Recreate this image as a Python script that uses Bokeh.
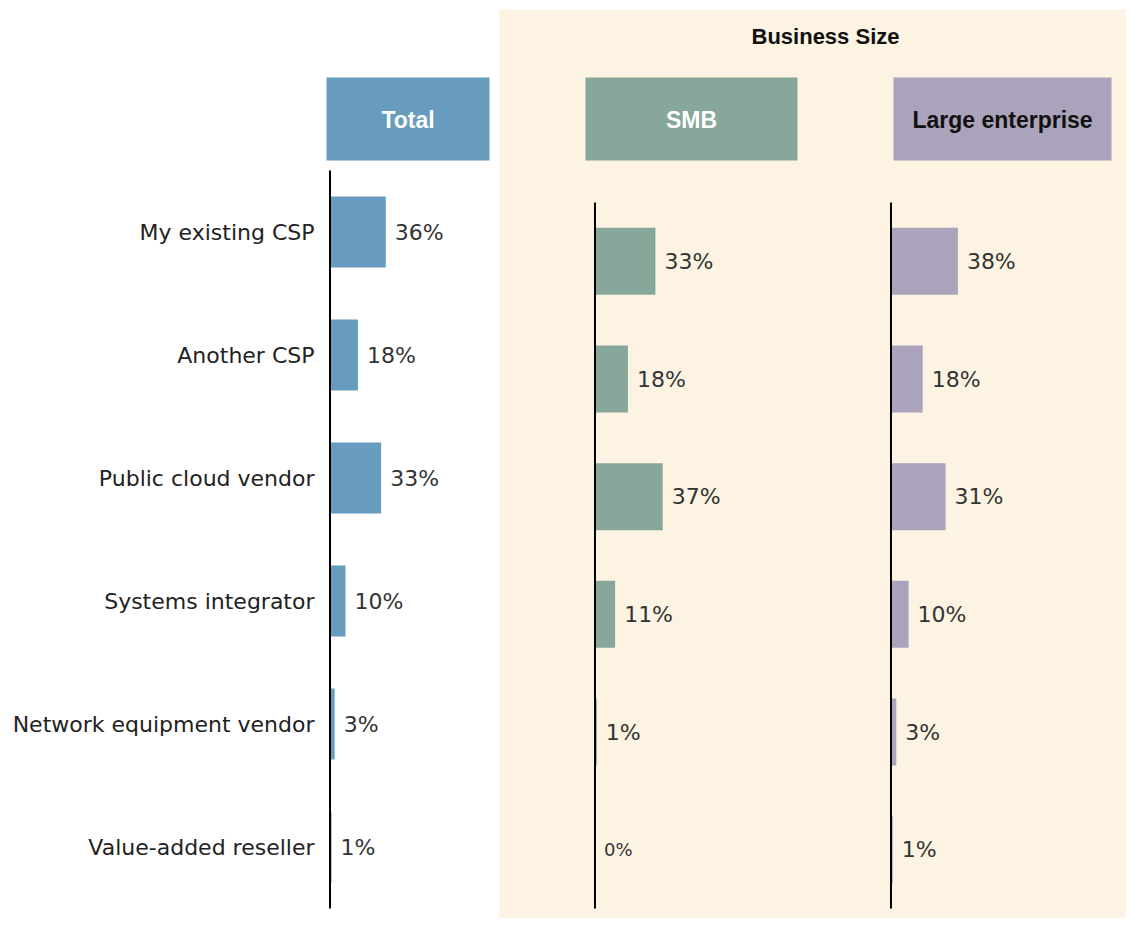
from bokeh.plotting import figure
from bokeh.models import Range1d, ColumnDataSource
from bokeh.embed import file_html
from bokeh.resources import INLINE
from bokeh.core.properties import value

# ---------------- data ----------------
categories = ["My existing CSP", "Another CSP", "Public cloud vendor",
              "Systems integrator", "Network equipment vendor", "Value-added reseller"]
total = [36, 18, 33, 10, 3, 1]
smb = [33, 18, 37, 11, 1, 0]
large = [38, 18, 31, 10, 3, 1]
panel_titles = ["Total", "SMB", "Large enterprise"]
group_title = "Business Size"

# ---------------- layout constants ----------------
W, H = 1126, 918
C_TOTAL = "#689cbf"
C_SMB = "#87a79a"
C_LARGE = "#aba2bb"
C_BEIGE = "#fcf3e2"
FONT = "DejaVu Sans"
HFONT = "Liberation Sans"

p = figure(width=W, height=H, output_backend="svg", toolbar_location=None,
           x_range=Range1d(0, W), y_range=Range1d(H, 0),
           x_axis_location=None, y_axis_location=None,
           min_border=0, outline_line_color=None, background_fill_color="white")
p.grid.visible = False

# panel x-ranges: (axis position in px, px per percent)
panels = {"tot": (329.5, 1.55), "smb": (594.5, 1.83), "lrg": (890.5, 1.76)}
for name, (x0, s) in panels.items():
    p.extra_x_ranges[name] = Range1d(-x0 / s, (W - x0) / s)

# panel y-ranges: (band top px, band bottom px)
def yr(top, bottom, n=len(categories)):
    u = (bottom - top) / n
    return Range1d(-0.5 + (H - top) / u, -0.5 - top / u)

p.extra_y_ranges["ytot"] = yr(170, 908)
p.extra_y_ranges["ybiz"] = yr(202, 908)

# background for business size
p.quad(left=499, right=W, top=9, bottom=H, fill_color=C_BEIGE, line_color=None)

# header boxes
p.quad(left=[326, 585, 893], right=[489, 797, 1111], top=[77] * 3, bottom=[160] * 3,
       fill_color=[C_TOTAL, C_SMB, C_LARGE], line_color=None)
p.text(x=[407.5, 691, 1002], y=[119] * 3, text=panel_titles,
       text_color=["white", "white", "#111111"], text_font=value(HFONT),
       text_font_style="bold", text_font_size="23px",
       text_align="center", text_baseline="middle")
p.text(x=[825], y=[36], text=[group_title], text_color="#111111",
       text_font=value(HFONT), text_font_style="bold", text_font_size="22px",
       text_align="center", text_baseline="middle")

idx = list(range(len(categories)))

# category labels
p.text(x=[314] * len(categories), y=idx, y_range_name="ytot", text=categories,
       text_color="#222222", text_font=value(FONT), text_font_size="22px",
       text_align="right", text_baseline="middle")

def panel(vals, color, xname, yname, height):
    src = ColumnDataSource(dict(
        y=idx, v=vals, lab=[f"{v}%" for v in vals],
        fs=["18px" if v == 0 else "22px" for v in vals]))
    p.hbar(y="y", left=0, right="v", height=height, source=src,
           fill_color=color, line_color=None,
           x_range_name=xname, y_range_name=yname)
    p.segment(x0=[0], x1=[0], y0=[-0.5], y1=[len(vals) - 0.5], line_color="black",
              line_width=2, x_range_name=xname, y_range_name=yname)
    p.text(x="v", y="y", text="lab", source=src, x_offset=9,
           text_color="#333333", text_font=value(FONT), text_font_size="fs",
           text_align="left", text_baseline="middle",
           x_range_name=xname, y_range_name=yname)

panel(total, C_TOTAL, "tot", "ytot", 0.577)
panel(smb, C_SMB, "smb", "ybiz", 0.57)
panel(large, C_LARGE, "lrg", "ybiz", 0.57)

open("out.html", "w").write(file_html(p, INLINE))
